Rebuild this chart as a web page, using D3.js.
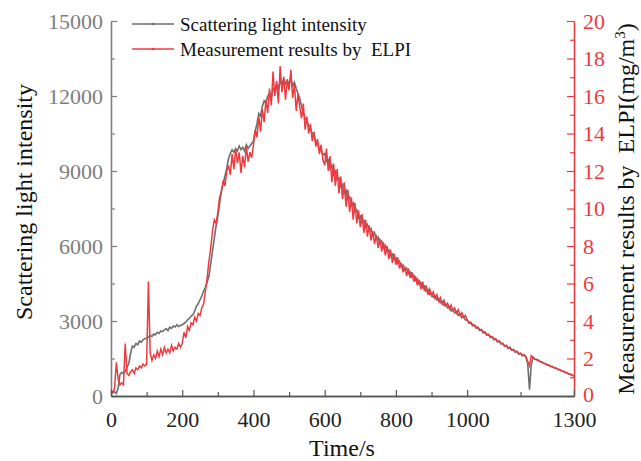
<!DOCTYPE html>
<html>
<head>
<meta charset="utf-8">
<script src="https://cdn.jsdelivr.net/npm/d3@7"></script>
<style>
body { margin: 0; background: #fff; }
text { font-family: "Liberation Serif", "Times New Roman", serif; white-space: pre; }
.grayLine { fill: none; stroke: #6e6e6e; stroke-width: 1.6; }
.redLine { fill: none; stroke: #ee3a3f; stroke-width: 1.5; }
</style>
</head>
<body>
<div class="container"></div>
<script>
// sampling grid of the record (s)
var timeStep = 5;
var times = d3.range(0, 1301, timeStep);

// scattering light intensity (left axis), one value per 5 s
var scattering = [
    150,120,180,100,300,850,950,900,1000,1150,1300,1700,2000,1950,2100,2050,2200,2150,2250,2300,
    2300,2350,2420,2380,2480,2450,2550,2500,2600,2580,2650,2700,2620,2750,2700,2800,2760,2850,2780,2820,
    2850,2900,2950,3050,3100,3200,3250,3400,3600,3700,3850,4000,4200,4350,4550,4800,5300,5800,6300,6800,
    7200,7700,8200,8500,8800,9100,9500,9700,9850,9750,9900,9800,10000,9850,9950,9800,10050,9900,10000,10100,
    10200,10600,10900,11300,11200,11600,11800,11700,12000,12100,11900,12300,12200,12500,12300,12600,12400,12700,12500,12600,
    12500,12700,12400,12550,12300,12100,11900,11600,11300,11100,11000,10800,10700,10500,10400,10200,10100,9900,9800,9650,
    9700,9380,9450,9100,9230,8850,8980,8650,8720,8380,8470,8100,8230,7870,7960,7620,7720,7380,7450,7130,
    7200,6930,7020,6760,6860,6600,6700,6420,6530,6260,6350,6100,6190,5930,6020,5770,5850,5600,5680,5440,
    5520,5310,5390,5170,5240,5030,5110,4890,4960,4750,4830,4610,4680,4470,4540,4330,4400,4190,4260,4060,
    4110,3950,4000,3850,3900,3730,3790,3630,3680,3530,3580,3410,3480,3320,3370,3230,3280,3130,3180,3040,
    3040,2910,2940,2810,2840,2710,2740,2620,2650,2520,2550,2430,2460,2340,2370,2250,2280,2160,2190,2080,
    2100,1990,2020,1910,1940,1830,1860,1750,1780,1670,1700,1610,1640,1560,1300,250,1250,1560,1470,1470,
    1430,1370,1370,1300,1300,1240,1240,1180,1180,1120,1120,1060,1060,1000,1000,940,940,880,880,830,800
];

// ELPI mass concentration, mg/m3 (right axis), one value per 5 s
var elpi = [
    0.3,0.2,0.4,1.8,0.9,0.6,0.7,0.6,2.8,1.2,1.1,1.3,1.4,1.2,1.5,1.4,1.6,1.5,1.7,1.6,
    1.7,6.1,2.3,1.9,2.2,2.0,2.4,2.1,2.5,2.2,2.6,2.3,2.5,2.3,2.7,2.4,2.6,2.5,2.8,2.6,
    2.8,3.4,3.1,3.7,3.5,3.9,3.8,4.2,4.0,4.4,4.3,4.7,4.9,5.6,6.3,7.2,7.9,8.8,9.4,9.2,
    9.8,10.6,10.9,11.5,11.2,12.0,12.3,11.8,12.9,12.1,13.2,12.4,13.0,11.9,12.8,12.2,13.3,12.5,13.0,12.7,
    13.4,14.2,13.8,14.9,14.1,15.3,14.6,15.8,15.1,16.4,15.5,17.3,16.0,16.8,15.6,17.6,16.2,17.0,15.8,16.9,
    16.3,17.4,15.9,16.6,15.2,16.1,15.4,14.8,15.6,14.2,14.9,14.0,14.5,13.6,14.1,13.3,13.7,12.9,13.4,12.6,
    12.3,13.2,12.0,12.8,11.4,12.4,11.2,12.1,10.8,11.7,10.5,11.4,10.1,11.0,9.8,10.6,9.4,10.3,9.2,9.9,
    9.0,9.7,8.7,9.4,8.5,9.1,8.3,8.8,8.1,8.6,7.9,8.4,7.7,8.2,7.5,8.0,7.3,7.8,7.1,7.6,
    7.0,7.4,6.8,7.1,6.6,6.9,6.4,6.8,6.3,6.6,6.1,6.4,5.9,6.2,5.7,6.1,5.6,5.9,5.4,5.7,
    5.35,5.55,5.2,5.4,5.05,5.25,4.9,5.1,4.8,4.95,4.65,4.85,4.55,4.7,4.42,4.6,4.3,4.45,4.2,4.3,
    4.05,3.93,3.93,3.8,3.8,3.67,3.68,3.55,3.55,3.42,3.42,3.3,3.3,3.18,3.18,3.06,3.06,2.94,2.94,2.82,
    2.8,2.67,2.7,2.57,2.6,2.46,2.48,2.36,2.38,2.27,2.28,2.18,2.2,2.1,1.85,1.6,2.15,2.05,1.98,1.93,
    1.88,1.84,1.8,1.75,1.71,1.67,1.63,1.59,1.55,1.51,1.47,1.43,1.39,1.35,1.31,1.27,1.23,1.19,1.15,1.11,1.07
];

var xMajor = [0, 200, 400, 600, 800, 1000, 1300];
var xMinor = [100, 300, 500, 700, 900, 1150];
var leftMajor = [0, 3000, 6000, 9000, 12000, 15000];
var leftMinor = [1500, 4500, 7500, 10500, 13500];
var rightMajor = [0, 2, 4, 6, 8, 10, 12, 14, 16, 18, 20];
var rightMinor = [1, 3, 5, 7, 9, 11, 13, 15, 17, 19];

var legendNames = ['Scattering light intensity', 'Measurement results by  ELPI'];

var WIDTH = 641, HEIGHT = 461;
var GRAY = '#6e6e6e', RED = '#ee3a3f';

var translate = (x, y) => `translate(${ x },${ y })`;

var x = d3.scaleLinear().domain([0, 1300]).range([111, 574]);
var yLeft = d3.scaleLinear().domain([0, 15000]).range([396, 21]);
var yRight = d3.scaleLinear().domain([0, 20]).range([396, 21]);

var svg = d3.select('.container').append('svg')
    .attr('width', WIDTH)
    .attr('height', HEIGHT);

var grayData = times.map((t, i) => [t, scattering[i]]);
var redData = times.map((t, i) => [t, elpi[i]]);

svg.append('path')
    .classed('grayLine', true)
    .attr('d', d3.line().x(d => x(d[0])).y(d => yLeft(d[1]))(grayData));

svg.append('path')
    .classed('redLine', true)
    .attr('d', d3.line().x(d => x(d[0])).y(d => yRight(d[1]))(redData));

var styleAxis = (g, color, textColor, size) => {
    g.select('.domain').attr('stroke', color).attr('stroke-width', 1.3);
    g.selectAll('.tick line').attr('stroke', color).attr('stroke-width', 1.2);
    g.selectAll('.tick text')
        .attr('fill', textColor)
        .style('font-size', size + 'px')
        .style('font-family', '"Liberation Serif", serif');
}

// left axis
var gl = svg.append('g').attr('transform', translate(111, 0))
    .call(d3.axisLeft(yLeft).tickValues(leftMinor).tickSizeInner(-4).tickSizeOuter(0).tickFormat(''));
styleAxis(gl, '#7d7d7d', '#7d7d7d', 22);
var glm = svg.append('g').attr('transform', translate(111, 0))
    .call(d3.axisLeft(yLeft).tickValues(leftMajor).tickSizeInner(-6).tickSizeOuter(0).tickPadding(8).tickFormat(d3.format('d')));
styleAxis(glm, '#7d7d7d', '#7d7d7d', 22);

// right axis
var gr = svg.append('g').attr('transform', translate(574, 0))
    .call(d3.axisRight(yRight).tickValues(rightMinor).tickSizeInner(-4).tickSizeOuter(0).tickFormat(''));
styleAxis(gr, RED, RED, 22);
var grm = svg.append('g').attr('transform', translate(574, 0))
    .call(d3.axisRight(yRight).tickValues(rightMajor).tickSizeInner(-7).tickSizeOuter(0).tickPadding(9));
styleAxis(grm, RED, RED, 22);
grm.selectAll('.tick text').filter(d => d === 0).attr('dy', '0.25em');

// bottom axis
var gb = svg.append('g').attr('transform', translate(0, 396))
    .call(d3.axisBottom(x).tickValues(xMinor).tickSizeInner(-4).tickSizeOuter(0).tickFormat(''));
styleAxis(gb, '#555', '#222', 22);
var gbm = svg.append('g').attr('transform', translate(0, 396))
    .call(d3.axisBottom(x).tickValues(xMajor).tickSizeInner(-6).tickSizeOuter(0).tickFormat(d3.format('d')));
styleAxis(gbm, '#555', '#222', 22);
gbm.selectAll('.tick text').attr('dy', '0.71em').attr('y', 15);

// axis titles
svg.append('text')
    .attr('transform', translate(342, 456))
    .attr('text-anchor', 'middle')
    .style('font-size', '24px')
    .attr('fill', '#111')
    .text('Time/s');

svg.append('text')
    .attr('transform', translate(32, 202) + ' rotate(-90)')
    .attr('text-anchor', 'middle')
    .style('font-size', '24px')
    .attr('fill', '#111')
    .text('Scattering light intensity');

var rt = svg.append('text')
    .attr('transform', translate(634, 209) + ' rotate(-90)')
    .attr('text-anchor', 'middle')
    .style('font-size', '24px')
    .attr('fill', '#111');
rt.append('tspan').text('Measurement results by  ELPI(mg/m');
rt.append('tspan').attr('dy', -9).style('font-size', '15px').text('3');
rt.append('tspan').attr('dy', 9).text(')');

// legend
var legend = svg.append('g').classed('legend', true);
[GRAY, RED].forEach((c, i) => {
    var ly = 24 + i * 25;
    legend.append('line')
        .attr('x1', 132).attr('x2', 174)
        .attr('y1', ly).attr('y2', ly)
        .attr('stroke', c).attr('stroke-width', 1.3);
    legend.append('circle')
        .attr('cx', 153).attr('cy', ly).attr('r', 1.3)
        .attr('fill', c);
    legend.append('text')
        .attr('x', 180).attr('y', ly + 7)
        .style('font-size', '19px')
        .attr('fill', '#111')
        .text(legendNames[i]);
});
</script>
</body>
</html>
